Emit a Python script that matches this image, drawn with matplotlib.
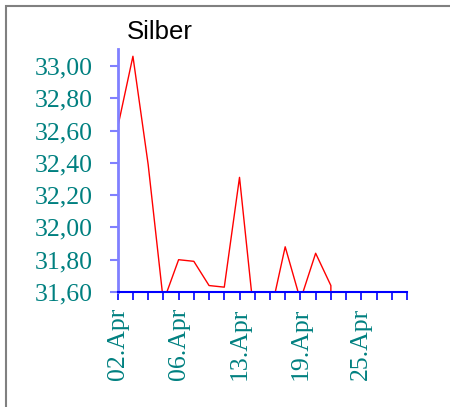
import matplotlib
matplotlib.use("Agg")
import matplotlib.pyplot as plt
from matplotlib.patches import Rectangle

title = "Silber"
day_index = list(range(20))
values = [32.62, 33.06, 32.39, 31.54, 31.80, 31.79, 31.64, 31.63, 32.31, 31.41,
          31.45, 31.88, 31.55, 31.84, 31.64, 0.0, 0.0, 0.0, 0.0, 0.0]
label_positions = [0, 4, 8, 12, 16]
label_texts = ["02.Apr", "06.Apr", "13.Apr", "19.Apr", "25.Apr"]
y_ticks = [31.60, 31.80, 32.00, 32.20, 32.40, 32.60, 32.80, 33.00]

W, H = 450, 407
fig = plt.figure(figsize=(W / 100, H / 100), dpi=100)
ax = fig.add_axes([117.7 / W, 1 - 292 / H, (407 - 117.7) / W, (292 - 49) / H])

ax.plot(day_index, values, color="#ff0000", lw=1.0)
ax.set_xlim(0, 19)
ax.set_ylim(31.60, 33.105)

ax.set_yticks(y_ticks)
ax.set_yticklabels([f"{v:.2f}".replace(".", ",") for v in y_ticks])
ax.set_xticks(day_index)
lbls = ["" for _ in day_index]
for p, t in zip(label_positions, label_texts):
    lbls[p] = t
ax.set_xticklabels(lbls, rotation=90)

serif = ["Liberation Serif", "DejaVu Serif"]
for t in ax.get_yticklabels() + ax.get_xticklabels():
    t.set_fontfamily(serif)
    t.set_fontsize(18.5)
    t.set_color("#008080")

ax.tick_params(axis="y", length=5.8, width=1.5, color="#8080ff", pad=12)
ax.tick_params(axis="x", length=5.8, width=1.2, color="#0000ff", pad=5.8)

for s in ["top", "right"]:
    ax.spines[s].set_visible(False)
ax.spines["left"].set_color("#8080ff")
ax.spines["left"].set_linewidth(2)
ax.spines["bottom"].set_color("#0000ff")
ax.spines["bottom"].set_linewidth(1.5)
ax.spines["bottom"].set_zorder(5)

fig.text(127 / W, 1 - 39 / H, title, fontsize=18.5, family=["Liberation Sans", "DejaVu Sans"],
         color="black", va="baseline", ha="left")

fig.patches.append(Rectangle((5.5 / W, -0.1), 1.2, 1.1 - 5.5 / H, transform=fig.transFigure,
                             fill=False, edgecolor="#808080", lw=1.5, figure=fig))

fig.savefig("out.png", dpi=100)
